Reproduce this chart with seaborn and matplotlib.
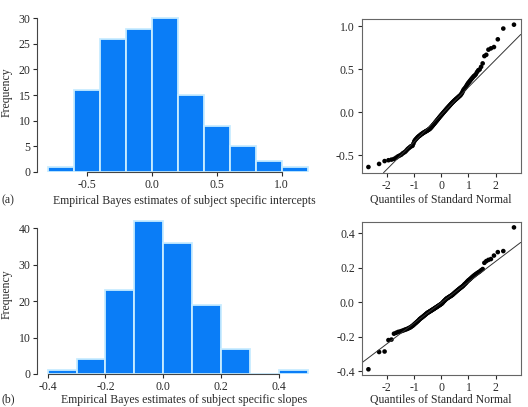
import numpy as np
import pandas as pd
import matplotlib
matplotlib.use("Agg")
import matplotlib.pyplot as plt
import seaborn as sns
from statistics import NormalDist

# ---------------- data (sorted EB estimates) ----------------
intercepts = [
    -0.634,
    -0.598, -0.565, -0.555, -0.548, -0.540, -0.525, -0.510, -0.500, -0.490, -0.475,
    -0.465, -0.455, -0.440, -0.425, -0.415, -0.405,
    -0.395, -0.390, -0.385, -0.360, -0.335, -0.320, -0.310, -0.300, -0.290, -0.282,
    -0.275, -0.270, -0.262, -0.256, -0.250, -0.245, -0.240, -0.235, -0.230, -0.226,
    -0.222, -0.218, -0.214, -0.210, -0.205, -0.201,
    -0.197, -0.192, -0.186, -0.180, -0.172, -0.165, -0.158, -0.150, -0.142, -0.135,
    -0.128, -0.120, -0.112, -0.105, -0.098, -0.090, -0.083, -0.076, -0.068, -0.060,
    -0.053, -0.046, -0.039, -0.032, -0.025, -0.018, -0.011, -0.004,
    0.004, 0.010, 0.017, 0.024, 0.031, 0.038, 0.045, 0.052, 0.058, 0.065,
    0.072, 0.079, 0.086, 0.093, 0.100, 0.107, 0.114, 0.120, 0.127, 0.133,
    0.140, 0.146, 0.152, 0.158, 0.164, 0.170, 0.177, 0.184, 0.190, 0.196,
    0.205, 0.215, 0.228, 0.245, 0.262, 0.272, 0.282, 0.295, 0.310, 0.325,
    0.340, 0.352, 0.365, 0.378, 0.392,
    0.405, 0.420, 0.430, 0.445, 0.470, 0.490, 0.500, 0.530, 0.570,
    0.655, 0.670, 0.730, 0.745, 0.760,
    0.850, 0.975,
    1.020,
]

slopes = [
    -0.388,
    -0.288, -0.285, -0.219, -0.216,
    -0.182, -0.177, -0.172, -0.170, -0.167, -0.164, -0.161, -0.158, -0.156, -0.153,
    -0.150, -0.147, -0.144, -0.140, -0.136, -0.132, -0.127, -0.123, -0.119, -0.115,
    -0.111, -0.107, -0.103,
    -0.098, -0.095, -0.092, -0.089, -0.086, -0.083, -0.080, -0.077, -0.074, -0.071,
    -0.068, -0.065, -0.062, -0.060, -0.058, -0.056, -0.054, -0.052, -0.050, -0.048,
    -0.046, -0.044, -0.042, -0.040, -0.038, -0.036, -0.034, -0.032, -0.030, -0.028,
    -0.026, -0.024, -0.022, -0.020, -0.018, -0.016, -0.014, -0.012, -0.010, -0.008,
    -0.005, -0.002,
    0.002, 0.005, 0.008, 0.011, 0.014, 0.017, 0.020, 0.022, 0.024, 0.026,
    0.028, 0.030, 0.032, 0.034, 0.036, 0.038, 0.040, 0.042, 0.045, 0.048,
    0.051, 0.054, 0.057, 0.060, 0.063, 0.066, 0.069, 0.072, 0.075, 0.078,
    0.081, 0.084, 0.087, 0.090, 0.093, 0.097,
    0.102, 0.106, 0.110, 0.115, 0.120, 0.125, 0.129, 0.133, 0.138, 0.143,
    0.148, 0.153, 0.158, 0.163, 0.168, 0.173, 0.178, 0.185, 0.192,
    0.228, 0.238, 0.245, 0.250, 0.270, 0.290, 0.296,
    0.433,
]

bins_a = [-0.8, -0.6, -0.4, -0.2, 0.0, 0.2, 0.4, 0.6, 0.8, 1.0, 1.2]
bins_b = [-0.4, -0.3, -0.2, -0.1, 0.0, 0.1, 0.2, 0.3, 0.4, 0.5]

hist_yticks_a = [0, 5, 10, 15, 20, 25, 30]
hist_xticks_a = [-0.5, 0.0, 0.5, 1.0]
hist_yticks_b = [0, 10, 20, 30, 40]
hist_xticks_b = [-0.4, -0.2, 0.0, 0.2, 0.4]
qq_xticks = [-2, -1, 0, 1, 2]
qq_yticks_a = [-0.5, 0.0, 0.5, 1.0]
qq_yticks_b = [-0.4, -0.2, 0.0, 0.2, 0.4]

xlabel_a = "Empirical Bayes estimates of subject specific intercepts"
xlabel_b = "Empirical Bayes estimates of subject specific slopes"
qq_xlabel = "Quantiles of Standard Normal"

# ---------------- style ----------------
sns.set_style("ticks")
plt.rcParams["font.family"] = ["Liberation Serif", "DejaVu Serif"]
TXT = "#2a2a2a"
plt.rcParams.update({
    "font.size": 8,
    "text.color": TXT,
    "axes.labelcolor": TXT,
    "xtick.color": TXT,
    "ytick.color": TXT,
    "axes.edgecolor": "#444444",
    "xtick.major.size": 3,
    "ytick.major.size": 3,
    "xtick.major.width": 0.8,
    "ytick.major.width": 0.8,
    "xtick.major.pad": 2,
    "ytick.major.pad": 2,
    "xtick.labelsize": 8.5,
    "ytick.labelsize": 8.5,
})

W, H = 528, 407
fig = plt.figure(figsize=(W / 100, H / 100), dpi=100)


def px_axes(left, right, top, bottom):
    return fig.add_axes([left / W, 1 - bottom / H, (right - left) / W, (bottom - top) / H])


BAR = "#0a7df7"
EDGE = "#c8ecff"


def hist_panel(ax, data, bins, xlim, ylim, xticks, yticks, xlabel, pad):
    sns.histplot(x=data, bins=bins, ax=ax, color=BAR, edgecolor=EDGE,
                 linewidth=1.3, alpha=1.0)
    ax.set_xlim(*xlim)
    ax.set_ylim(*ylim)
    ax.set_xticks(xticks)
    ax.set_yticks(yticks)
    ax.set_xticklabels([f"{t:.1f}" for t in xticks])
    ax.set_yticklabels([str(t) for t in yticks])
    for s in ("top", "right"):
        ax.spines[s].set_visible(False)
    ax.spines["left"].set_bounds(yticks[0], yticks[-1])
    ax.spines["bottom"].set_bounds(xticks[0], xticks[-1])
    ax.set_ylabel("Frequency", fontsize=8.5, labelpad=4)
    ax.set_xlabel(xlabel, fontsize=8.5, labelpad=pad)
    ax.xaxis.label.set_x(0.522)


def qq_panel(ax, data, xticks, yticks, ylim, pad):
    y = np.sort(np.asarray(data))
    n = len(y)
    nd = NormalDist()
    probs = (np.arange(1, n + 1) - 0.5) / n
    q = np.array([nd.inv_cdf(p) for p in probs])
    df = pd.DataFrame({"theoretical": q, "sample": y})
    sns.scatterplot(data=df, x="theoretical", y="sample", ax=ax, color="black",
                    s=11, linewidth=0, edgecolor="none")
    # reference line through the quartiles
    y1, y3 = np.quantile(y, [0.25, 0.75])
    x1, x3 = nd.inv_cdf(0.25), nd.inv_cdf(0.75)
    slope = (y3 - y1) / (x3 - x1)
    icpt = y1 - slope * x1
    ax.axline((0, icpt), slope=slope, color="#333333", lw=0.7)
    ax.set_xlim(-2.92, 2.92)
    ax.set_ylim(*ylim)
    ax.set_xticks(xticks)
    ax.set_yticks(yticks)
    ax.set_xticklabels([str(t) for t in xticks])
    ax.set_yticklabels([f"{t:.1f}" for t in yticks])
    for s in ax.spines.values():
        s.set_visible(True)
        s.set_linewidth(0.8)
        s.set_color("#666666")
    ax.set_ylabel("")
    ax.set_xlabel(qq_xlabel, fontsize=8.5, labelpad=pad)


# panel (a)
ax1 = px_axes(37.3, 318.1, 12.2, 171.7)
hist_panel(ax1, intercepts, bins_a, (-0.88, 1.28), (0, 31.2),
           hist_xticks_a, hist_yticks_a, xlabel_a, 3)
ax2 = px_axes(361.7, 520.7, 19.0, 172.7)
qq_panel(ax2, intercepts, qq_xticks, qq_yticks_a, (-0.700, 1.086), 2)

# panel (b)
ax3 = px_axes(37.3, 318.1, 215.0, 374.0)
hist_panel(ax3, slopes, bins_b, (-0.436, 0.536), (0, 43.68),
           hist_xticks_b, hist_yticks_b, xlabel_b, 1)
ax4 = px_axes(361.7, 520.7, 221.7, 375.0)
qq_panel(ax4, slopes, qq_xticks, qq_yticks_b, (-0.421, 0.466), 0)

fig.text(2 / W, 1 - 399 / H, "(b)", fontsize=8.5, va="center", ha="left")
fig.text(2 / W, 1 - 200 / H, "(a)", fontsize=8.5, va="center", ha="left")

fig.savefig("out.png", dpi=100)
